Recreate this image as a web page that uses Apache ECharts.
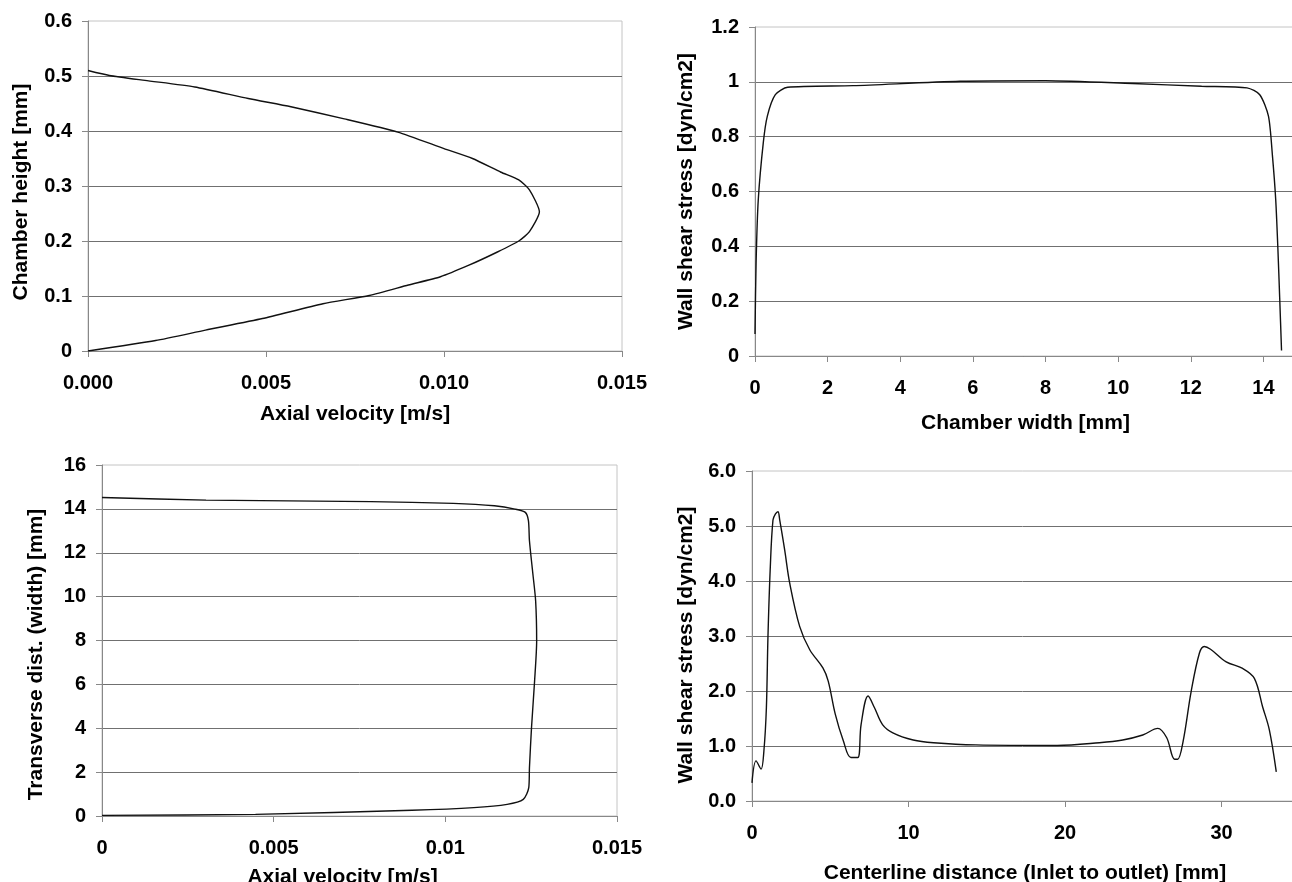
<!DOCTYPE html>
<html>
<head>
<meta charset="utf-8">
<script src="https://cdn.jsdelivr.net/npm/echarts@6/dist/echarts.min.js"></script>
<style>
  html, body { margin: 0; padding: 0; background: #fff; }
  #chart { width: 1292px; height: 882px; }
</style>
</head>
<body>
<div id="chart"></div>
<script>
// top left: velocity profile across chamber height
var velHeight = [0, 0.0019, 0.0033, 0.0049, 0.0066, 0.0079, 0.0090, 0.0099, 0.0107, 0.0115, 0.0121, 0.0124, 0.01268,
  0.0124, 0.0121, 0.0116, 0.0108, 0.0100, 0.0087, 0.0072, 0.0057, 0.0045, 0.0030, 0.0016, 0.0006, 0];
var chamberHeight = [0, 0.019, 0.038, 0.059, 0.086, 0.101, 0.120, 0.135, 0.156, 0.180, 0.200, 0.217, 0.253,
  0.293, 0.311, 0.325, 0.350, 0.368, 0.398, 0.422, 0.444, 0.459, 0.480, 0.492, 0.501, 0.510];

// top right: wall shear stress across chamber width
var chamberWidth = [0, 0.03, 0.09, 0.23, 0.34, 0.56, 0.9, 2.7, 5.65, 8.0, 10.4, 12.3, 13.55, 13.9, 14.14, 14.25,
  14.34, 14.4, 14.45, 14.5];
var wssWidth = [0.08, 0.34, 0.57, 0.78, 0.875, 0.953, 0.98, 0.986, 1.002, 1.004, 0.994, 0.984, 0.978, 0.953, 0.875,
  0.73, 0.57, 0.39, 0.21, 0.02];

// bottom left: velocity profile across transverse width
var velWidth = [0, 0.00447, 0.00903, 0.01083, 0.0118, 0.01227, 0.01243, 0.01245, 0.01251, 0.0126, 0.01266, 0.01263,
  0.01255, 0.01245, 0.01242, 0.01233, 0.01203, 0.01143, 0.01023, 0.00783, 0.00303, 0];
var transverseDist = [0.03, 0.076, 0.26, 0.38, 0.53, 0.76, 1.29, 2.2, 4.03, 6.16, 7.98, 9.81, 11.03, 12.55, 13.46,
  13.84, 13.99, 14.14, 14.25, 14.33, 14.4, 14.52];

// bottom right: wall shear stress along centerline
var centerDist = [0, 0.26, 0.58, 0.76, 0.92, 1.02, 1.17, 1.34, 1.5, 1.66, 1.77, 2.09, 2.41, 3.05, 3.69, 4.53, 4.87,
  5.32, 5.84, 6.32, 6.76, 6.97, 7.42, 7.82, 8.34, 9.0, 10.3, 11.6, 14.3, 19.5, 22.2, 23.69, 24.97, 25.93, 26.5, 27.0,
  27.2, 27.55, 28.06, 28.59, 28.9, 29.3, 30.3, 31.35, 32.1, 32.63, 33.06, 33.5];
var wssCenter = [0.33, 0.73, 0.58, 0.91, 1.70, 2.99, 4.26, 5.11, 5.22, 5.26, 5.11, 4.56, 3.96, 3.17, 2.75, 2.42, 2.18,
  1.58, 1.09, 0.79, 0.79, 1.39, 1.91, 1.70, 1.39, 1.24, 1.11, 1.06, 1.02, 1.01, 1.06, 1.11, 1.20, 1.32, 1.15, 0.76,
  0.76, 1.09, 1.99, 2.69, 2.81, 2.76, 2.53, 2.41, 2.23, 1.71, 1.29, 0.53];

var FONT = 'Liberation Sans';

function pairs(xs, ys) {
  return xs.map(function(x, i) { return [x, ys[i]]; });
}

function axis(idx, opt) {
  return {
    type: 'value',
    gridIndex: idx,
    min: opt.min,
    max: opt.max,
    interval: opt.interval,
    name: opt.name,
    nameLocation: 'middle',
    nameGap: opt.nameGap,
    nameTextStyle: {
      fontFamily: FONT, fontSize: 21, fontWeight: 'bold', color: '#000',
      padding: opt.namePad || 0
    },
    axisLine: { show: true, lineStyle: { color: '#888', width: 1 } },
    axisTick: { show: true, inside: false, length: 6, lineStyle: { color: '#888' } },
    axisLabel: {
      fontFamily: FONT, fontSize: 20, fontWeight: 'bold', color: '#000',
      margin: opt.margin, formatter: opt.fmt, showMaxLabel: true, showMinLabel: true, hideOverlap: false
    },
    splitLine: {
      show: !!opt.split, showMaxLine: false,
      lineStyle: { color: '#707070', width: 1 }
    }
  };
}

function line(idx, data, smooth) {
  return {
    type: 'line', xAxisIndex: idx, yAxisIndex: idx,
    data: data, symbol: 'none', smooth: smooth || false,
    lineStyle: { color: '#111', width: 1.4 },
    silent: true, animation: false
  };
}

function grid(left, top, width, height) {
  return {
    left: left, top: top, width: width, height: height,
    outerBoundsMode: 'none', containLabel: false,
    show: true, borderColor: '#c4c4c4', borderWidth: 1, backgroundColor: 'transparent'
  };
}

var chart = echarts.init(document.getElementById('chart'), null, { renderer: 'canvas' });
chart.setOption({
  animation: false,
  grid: [
    grid(88, 21, 534, 330),
    grid(755, 27, 581, 329),
    grid(102, 465, 515, 351),
    grid(752, 471, 626, 330)
  ],
  xAxis: [
    axis(0, { min: 0, max: 0.015, interval: 0.005, name: 'Axial velocity [m/s]', nameGap: 53, margin: 22,
      fmt: function(v) { return v.toFixed(3); } }),
    axis(1, { min: 0, max: 16, interval: 2, name: 'Chamber width [mm]', nameGap: 57, margin: 22,
      namePad: [0, 40, 0, 0] }),
    axis(2, { min: 0, max: 0.015, interval: 0.005, name: 'Axial velocity [m/s]', nameGap: 51, margin: 22,
      namePad: [0, 34, 0, 0] }),
    axis(3, { min: 0, max: 40, interval: 10, name: 'Centerline distance (Inlet to outlet) [mm]', nameGap: 62,
      margin: 22, namePad: [0, 80, 0, 0] })
  ],
  yAxis: [
    axis(0, { min: 0, max: 0.6, interval: 0.1, name: 'Chamber height [mm]', nameGap: 56, margin: 16, split: true,
      namePad: [0, 12, 0, 0] }),
    axis(1, { min: 0, max: 1.2, interval: 0.2, name: 'Wall shear stress [dyn/cm2]', nameGap: 58, margin: 16,
      split: true }),
    axis(2, { min: 0, max: 16, interval: 2, name: 'Transverse dist. (width) [mm]', nameGap: 55, margin: 16,
      split: true, namePad: [0, 28, 0, 0] }),
    axis(3, { min: 0, max: 6, interval: 1, name: 'Wall shear stress [dyn/cm2]', nameGap: 55, margin: 16,
      split: true, namePad: [0, 18, 0, 0], fmt: function(v) { return v.toFixed(1); } })
  ],
  series: [
    line(0, pairs(velHeight, chamberHeight), 0.2),
    line(1, pairs(chamberWidth, wssWidth), 0.25),
    line(2, pairs(velWidth, transverseDist), 0.25),
    line(3, pairs(centerDist, wssCenter), 0.35)
  ]
});
</script>
</body>
</html>
